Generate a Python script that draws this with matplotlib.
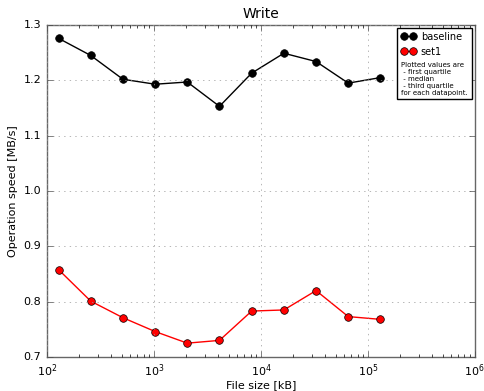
import matplotlib
matplotlib.use("Agg")
import matplotlib.pyplot as plt
from matplotlib.offsetbox import TextArea

plt.style.use('classic')

# file sizes in kB and measured write speed
file_size = [128, 256, 512, 1024, 2048, 4096, 8192, 16384, 32768, 65536, 131072]
baseline = [1.276, 1.245, 1.202, 1.193, 1.197, 1.153, 1.213, 1.249, 1.234, 1.195, 1.205]
set1 = [0.858, 0.801, 0.771, 0.746, 0.725, 0.730, 0.783, 0.785, 0.820, 0.773, 0.768]

note = ("Plotted values are\n - first quartile\n - median\n"
        " - third quartile\nfor each datapoint.")

fig = plt.figure(figsize=(4.85, 3.91), dpi=100, facecolor='white')
ax = fig.add_axes([0.097, 0.087, 0.882, 0.849])

ax.plot(file_size, baseline, 'k-', marker='o', markersize=5.5, label='baseline')
ax.plot(file_size, set1, 'r-', marker='o', markersize=5.5, label='set1')

ax.set_xscale('log')
ax.set_xlim(1e2, 1e6)
ax.set_ylim(0.7, 1.3)
ax.set_yticks([0.7, 0.8, 0.9, 1.0, 1.1, 1.2, 1.3])
ax.grid(True, color='0.6', linestyle=':')
ax.tick_params(labelsize=8, colors='0.3', labelcolor='black')
ax.tick_params(axis='x', pad=4)
for sp in ax.spines.values():
    sp.set_color('0.4')

ax.set_title('Write', fontsize=10)
ax.set_xlabel('File size [kB]', fontsize=8, labelpad=1)
ax.set_ylabel('Operation speed [MB/s]', fontsize=8, labelpad=4)

leg = ax.legend(loc='upper right', fontsize=7, numpoints=2, handlelength=1.5,
                borderaxespad=0.3, handletextpad=0.5)
# add the explanatory note inside the legend frame
note_box = TextArea(note, textprops=dict(fontsize=5))
note_box.set_figure(fig)
leg._legend_box._children.append(note_box)
leg._legend_box.align = 'left'

fig.savefig('out.png', dpi=100, facecolor='white')
